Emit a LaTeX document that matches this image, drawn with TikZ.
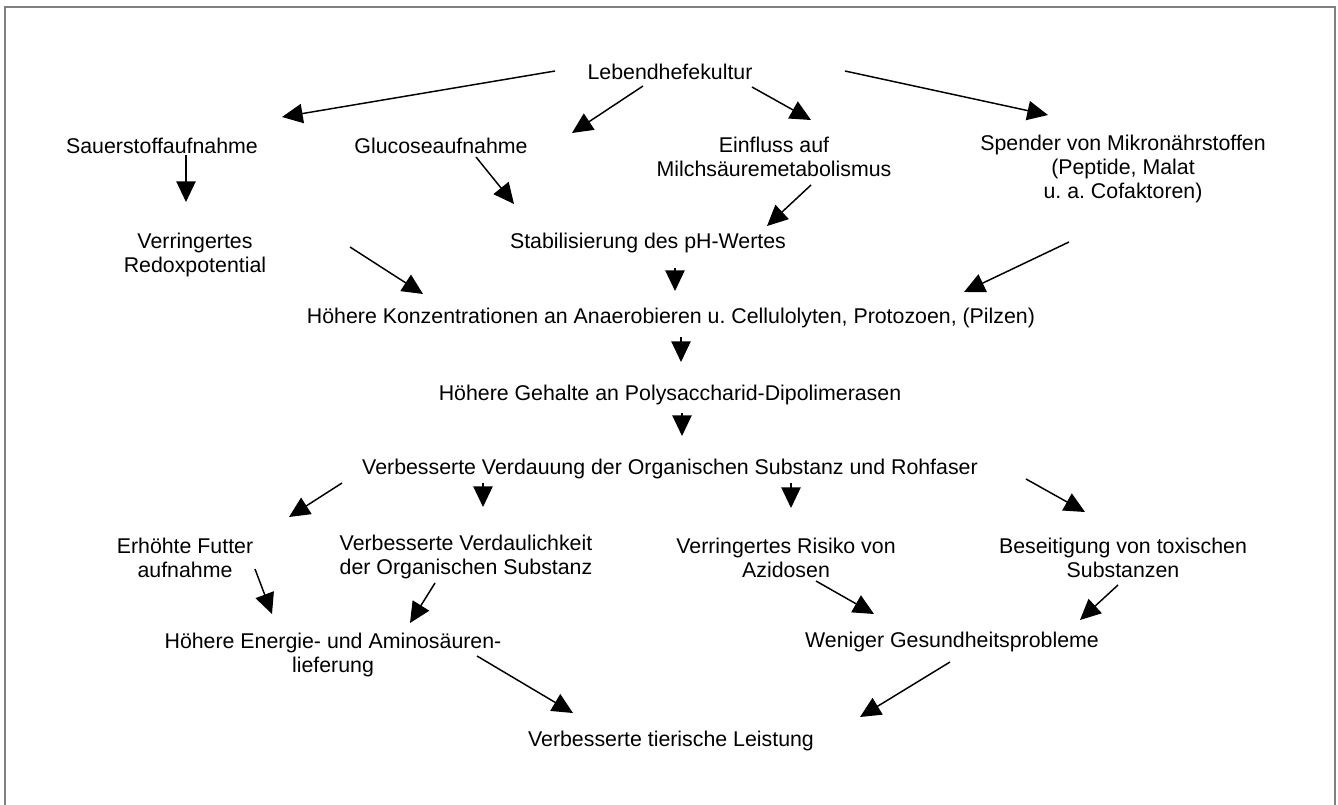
\documentclass[tikz,border=0pt]{standalone}
\usepackage{fontspec}
\setmainfont{Liberation Sans}
\usetikzlibrary{arrows.meta}
\frenchspacing

\begin{document}
\begin{tikzpicture}[
    x=0.75pt, y=-0.75pt,
    item/.style = {align=center, inner sep=0pt, font=\fontsize{16}{18}\selectfont},
    arrow/.style = {draw=black, line width=1.1pt, -{Triangle[length=15.5pt, width=14.5pt]}},
    frame/.style = {draw=black!50, line width=1.5pt}
]
\useasboundingbox (0,0) rectangle (1338,804);
\draw [frame] (5,812) |- (1335,7) -- (1335,812);

\node (lebend) [item] at (670,72) {Lebendhefekultur};
\node (sauer) [item] at (162,146) {Sauerstoffaufnahme};
\node (gluc) [item] at (441,146) {Glucoseaufnahme};
\node (einfl) [item] at (774,157) {Einfluss auf\\Milchsäuremetabolismus};
\node (spender) [item] at (1123,169) {Spender von Mikronährstoffen\\(Peptide, Malat\\u. a. Cofaktoren)};
\node (redox) [item] at (195,255) {Verringertes\\Redoxpotential};
\node (ph) [item] at (648,243) {Stabilisierung des pH-Wertes};
\node (konz) [item] at (671,318) {Höhere Konzentrationen an Anaerobieren u. Cellulolyten, Protozoen, (Pilzen)};
\node (gehalte) [item] at (670,395) {Höhere Gehalte an Polysaccharid-Dipolimerasen};
\node (verdau) [item] at (670,469) {Verbesserte Verdauung der Organischen Substanz und Rohfaser};
\node (futter) [item] at (185,558) {Erhöhte Futter\\aufnahme};
\node (verdaul) [item] at (466,557) {Verbesserte Verdaulichkeit\\der Organischen Substanz};
\node (risiko) [item] at (786,558) {Verringertes Risiko von\\Azidosen};
\node (beseit) [item] at (1123,558) {Beseitigung von toxischen\\Substanzen};
\node (energie) [item] at (333,655) {Höhere Energie- und Aminosäuren-\\lieferung};
\node (weniger) [item] at (952,642) {Weniger Gesundheitsprobleme};
\node (leistung) [item] at (671,741) {Verbesserte tierische Leistung};

\draw [arrow] ([shift={(-115,-1)}]lebend.center) -- ([shift={(120,-29)}]sauer.center);
\draw [arrow] ([shift={(-27,14)}]lebend.center) -- ([shift={(131,-13)}]gluc.center);
\draw [arrow] ([shift={(82,15)}]lebend.center) -- ([shift={(37,-37)}]einfl.center);
\draw [arrow] ([shift={(175,-1)}]lebend.center) -- ([shift={(-75,-54)}]spender.center);
\draw [arrow] ([shift={(24,9)}]sauer.center) -- ([shift={(-9,-53)}]redox.center);
\draw [arrow] ([shift={(35,11)}]gluc.center) -- ([shift={(-134,-39)}]ph.center);
\draw [arrow] ([shift={(37,28)}]einfl.center) -- ([shift={(119,-17)}]ph.center);
\draw [arrow] ([shift={(155,-8)}]redox.center) -- ([shift={(-248,-24)}]konz.center);
\draw [arrow] ([shift={(27,25)}]ph.center) -- ([shift={(4,-27)}]konz.center);
\draw [arrow] ([shift={(-54,73)}]spender.center) -- ([shift={(293,-26)}]konz.center);
\draw [arrow] ([shift={(10,19)}]konz.center) -- ([shift={(11,-33)}]gehalte.center);
\draw [arrow] ([shift={(12,18)}]gehalte.center) -- ([shift={(12,-33)}]verdau.center);
\draw [arrow] ([shift={(-328,14)}]verdau.center) -- ([shift={(104,-41)}]futter.center);
\draw [arrow] ([shift={(-187,14)}]verdau.center) -- ([shift={(17,-50)}]verdaul.center);
\draw [arrow] ([shift={(121,14)}]verdau.center) -- ([shift={(5,-50)}]risiko.center);
\draw [arrow] ([shift={(356,10)}]verdau.center) -- ([shift={(-38,-46)}]beseit.center);
\draw [arrow] ([shift={(70,11)}]futter.center) -- ([shift={(-61,-41)}]energie.center);
\draw [arrow] ([shift={(-31,26)}]verdaul.center) -- ([shift={(77,-32)}]energie.center);
\draw [arrow] ([shift={(30,23)}]risiko.center) -- ([shift={(-78,-28)}]weniger.center);
\draw [arrow] ([shift={(-5,27)}]beseit.center) -- ([shift={(128,-22)}]weniger.center);
\draw [arrow] ([shift={(144,1)}]energie.center) -- ([shift={(-98,-28)}]leistung.center);
\draw [arrow] ([shift={(-2,20)}]weniger.center) -- ([shift={(189,-24)}]leistung.center);
\end{tikzpicture}
\end{document}
